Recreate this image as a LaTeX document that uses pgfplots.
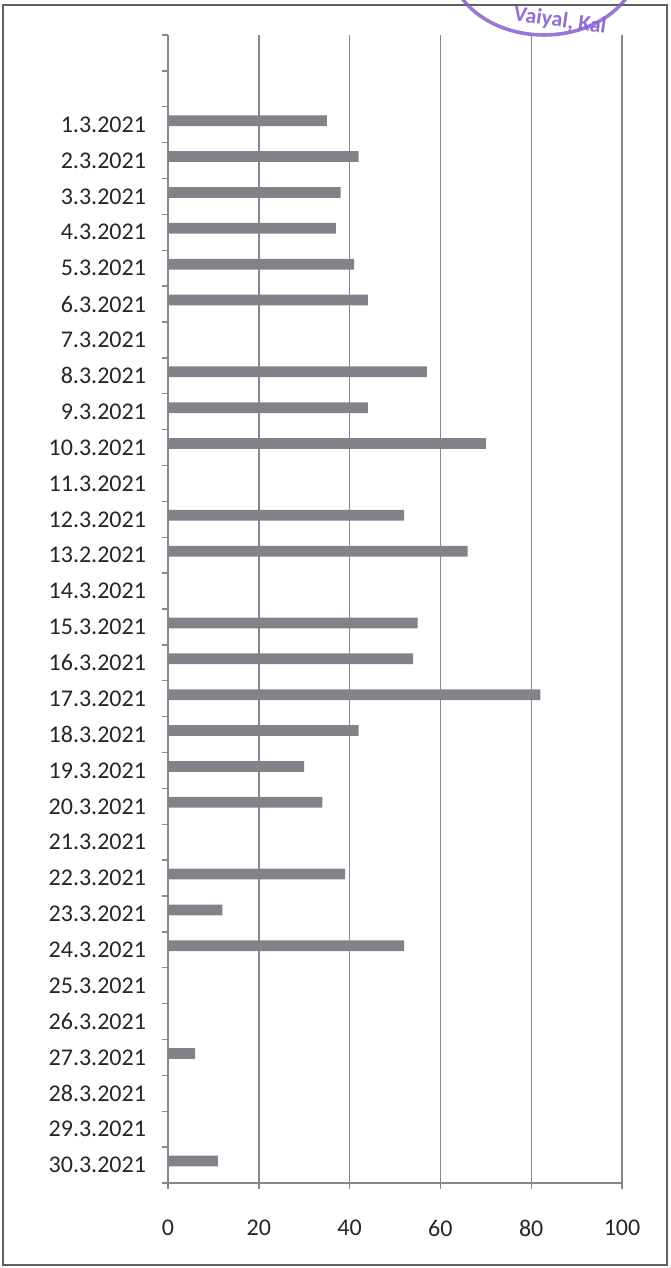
\documentclass[border=0pt]{standalone}
\usepackage{fontspec}
\setmainfont{Carlito}
\usepackage{pgfplots}
\pgfplotsset{compat=1.18}

\definecolor{bargray}{RGB}{130,130,136}
\definecolor{gridgray}{RGB}{135,135,142}
\definecolor{stamp}{RGB}{135,95,205}

\begin{document}
\begin{tikzpicture}
\useasboundingbox (-84pt,-42.5pt) rectangle (251pt,591.5pt);
\begin{axis}[
    at={(0,0)}, anchor=south west,
    scale only axis,
    width=227pt, height=574pt,
    xbar,
    bar width=0.3,
    xmin=0, xmax=100,
    ymin=-0.5, ymax=31.5,
    xtick={0,20,...,100},
    ytick={-0.5,0.5,...,31.5},
    yticklabels={},
    extra y ticks={0,...,29},
    extra y tick labels={30.3.2021,29.3.2021,28.3.2021,27.3.2021,26.3.2021,25.3.2021,
        24.3.2021,23.3.2021,22.3.2021,21.3.2021,20.3.2021,19.3.2021,18.3.2021,
        17.3.2021,16.3.2021,15.3.2021,14.3.2021,13.2.2021,12.3.2021,11.3.2021,
        10.3.2021,9.3.2021,8.3.2021,7.3.2021,6.3.2021,5.3.2021,4.3.2021,
        3.3.2021,2.3.2021,1.3.2021},
    extra y tick style={major tick length=0pt, yticklabel style={xshift=-7.5pt}},
    axis x line*=bottom, axis y line*=left,
    xmajorgrids,
    major grid style={gridgray, line width=0.7pt},
    axis line style={gridgray, line width=0.9pt},
    tick style={gridgray, line width=0.7pt},
    tick align=outside,
    major tick length=3pt,
    tick label style={font=\fontsize{12}{14}\selectfont, text=black!85},
    xticklabel style={yshift=-12pt},
    /pgf/number format/assume math mode=true,
]
\addplot[fill=bargray, draw=none, bar shift=2pt] coordinates {
(35,29) (42,28) (38,27) (37,26) (41,25) (44,24) (0,23) (57,22) (44,21) (70,20)
(0,19) (52,18) (66,17) (0,16) (55,15) (54,14) (82,13) (42,12) (30,11) (34,10)
(0,9) (39,8) (12,7) (52,6) (0,5) (0,4) (6,3) (0,2) (0,1) (11,0)
};
\end{axis}
\draw[gray!75!black, line width=1.2pt] (-82.5pt,-41pt) rectangle (249.5pt,589pt);
\begin{scope}
\clip (-84pt,-42.5pt) rectangle (251pt,591.5pt);
\draw[stamp, line width=1.8pt, opacity=0.85] (188pt,610pt) ellipse (47pt and 36pt);
\end{scope}
\node[stamp, opacity=0.9, rotate=-8, inner sep=0pt, font=\bfseries\fontsize{11}{11}\selectfont] at (196pt,581pt) {Vaiyal, Kal};
\end{tikzpicture}
\end{document}
